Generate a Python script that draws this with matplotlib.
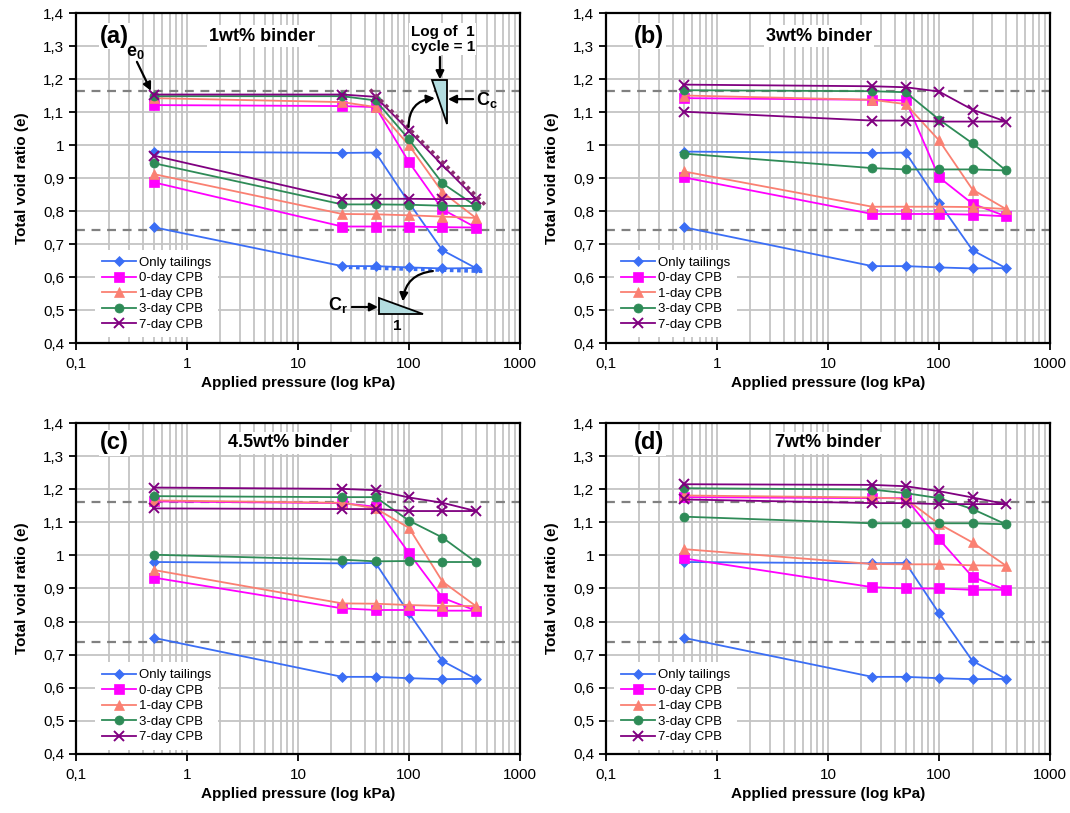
import matplotlib
matplotlib.use('Agg')
import matplotlib.pyplot as plt
from matplotlib.ticker import FixedLocator, NullFormatter
from matplotlib.patches import Polygon

plt.rcParams['font.family'] = ['Liberation Sans', 'DejaVu Sans']
plt.rcParams['mathtext.fontset'] = 'custom'
plt.rcParams['mathtext.rm'] = 'Liberation Sans'
plt.rcParams['mathtext.bf'] = 'Liberation Sans:bold'

# ---------------- data ----------------
pressure = [0.5, 25, 50, 100, 200, 400, 200, 100, 50, 25, 0.5]
series_names = ['Only tailings', '0-day CPB', '1-day CPB', '3-day CPB', '7-day CPB']
panel_labels = ['(a)', '(b)', '(c)', '(d)']
panel_titles = ['1wt% binder', '3wt% binder', '4.5wt% binder', '7wt% binder']
x_ticks = [0.1, 1, 10, 100, 1000]
x_ticklabels = ['0,1', '1', '10', '100', '1000']
y_ticks = [0.4, 0.5, 0.6, 0.7, 0.8, 0.9, 1.0, 1.1, 1.2, 1.3, 1.4]
y_ticklabels = ['0,4', '0,5', '0,6', '0,7', '0,8', '0,9', '1', '1,1', '1,2', '1,3', '1,4']
ref_lines_top = [1.163, 0.743]
ref_lines_bottom = [1.162, 0.739]

tailings = [0.980, 0.976, 0.977, 0.825, 0.681, 0.627, 0.626, 0.629, 0.633, 0.633, 0.751]

a_day0 = [1.121, 1.118, 1.115, 0.948, 0.805, 0.750, 0.751, 0.753, 0.753, 0.753, 0.887]
a_day1 = [1.142, 1.130, 1.115, 0.999, 0.857, 0.779, 0.783, 0.787, 0.790, 0.791, 0.912]
a_day3 = [1.148, 1.148, 1.135, 1.017, 0.884, 0.815, 0.816, 0.819, 0.820, 0.820, 0.945]
a_day7 = [1.153, 1.153, 1.146, 1.043, 0.939, 0.837, 0.836, 0.837, 0.837, 0.837, 0.968]

b_day0 = [1.142, 1.137, 1.135, 0.902, 0.822, 0.784, 0.789, 0.791, 0.791, 0.791, 0.902]
b_day1 = [1.150, 1.137, 1.124, 1.014, 0.865, 0.806, 0.812, 0.813, 0.813, 0.813, 0.920]
b_day3 = [1.166, 1.163, 1.160, 1.077, 1.005, 0.923, 0.926, 0.926, 0.926, 0.930, 0.974]
b_day7 = [1.183, 1.178, 1.175, 1.162, 1.107, 1.071, 1.071, 1.071, 1.074, 1.074, 1.101]

c_day0 = [1.163, 1.158, 1.147, 1.007, 0.872, 0.833, 0.833, 0.835, 0.835, 0.840, 0.933]
c_day1 = [1.166, 1.159, 1.142, 1.083, 0.921, 0.847, 0.847, 0.850, 0.854, 0.855, 0.956]
c_day3 = [1.179, 1.176, 1.176, 1.105, 1.054, 0.980, 0.980, 0.983, 0.982, 0.987, 1.002]
c_day7 = [1.205, 1.201, 1.197, 1.175, 1.159, 1.134, 1.134, 1.134, 1.140, 1.140, 1.142]

d_day0 = [1.176, 1.173, 1.173, 1.049, 0.935, 0.896, 0.896, 0.900, 0.900, 0.904, 0.991]
d_day1 = [1.181, 1.175, 1.171, 1.095, 1.039, 0.969, 0.970, 0.973, 0.973, 0.974, 1.019]
d_day3 = [1.203, 1.199, 1.188, 1.173, 1.140, 1.094, 1.097, 1.097, 1.097, 1.097, 1.117]
d_day7 = [1.215, 1.213, 1.209, 1.194, 1.175, 1.155, 1.155, 1.155, 1.158, 1.158, 1.169]

panels_data = [
    [tailings, a_day0, a_day1, a_day3, a_day7],
    [tailings, b_day0, b_day1, b_day3, b_day7],
    [tailings, c_day0, c_day1, c_day3, c_day7],
    [tailings, d_day0, d_day1, d_day3, d_day7],
]

# Cc / Cr guide lines in panel (a)
cc_line_x = [44.6, 484]
cc_line_y = [1.168, 0.819]
cr_line_x = [24.7, 494]
cr_line_y = [0.630, 0.617]

# ---------------- style ----------------
colors = ['#3b6ef5', '#ff00ff', '#fa8072', '#2e8b57', '#800080']
markers = ['D', 's', '^', 'o', 'x']
msizes = [5.5, 6.5, 7, 6.5, 7.5]

fig = plt.figure(figsize=(10.7, 8.13), dpi=100)
positions = [
    [0.0710, 0.5781, 0.4150, 0.4059],
    [0.5664, 0.5781, 0.4150, 0.4059],
    [0.0710, 0.0726, 0.4150, 0.4071],
    [0.5664, 0.0726, 0.4150, 0.4071],
]
label_pos = [(0.054, 0.93), (0.063, 0.93), (0.054, 0.94), (0.063, 0.94)]
title_pos = [(0.42, 0.93), (0.48, 0.93), (0.48, 0.94), (0.50, 0.94)]
legend_anchor = [(0.035, 0.005), (0.01, 0.005), (0.035, 0.0), (0.01, 0.0)]

axes = []
for i, pos in enumerate(positions):
    ax = fig.add_axes(pos)
    axes.append(ax)
    ax.set_xscale('log')
    ax.set_xlim(0.1, 1000)
    ax.set_ylim(0.4, 1.4)
    ax.xaxis.set_major_locator(FixedLocator(x_ticks))
    ax.set_xticklabels(x_ticklabels)
    ax.xaxis.set_minor_locator(FixedLocator(
        [m * d for d in [0.1, 1, 10, 100] for m in range(2, 10)]))
    ax.xaxis.set_minor_formatter(NullFormatter())
    ax.set_yticks(y_ticks)
    ax.set_yticklabels(y_ticklabels)
    ax.tick_params(axis='both', which='major', labelsize=11, length=5, width=1.3,
                   direction='out')
    ax.tick_params(axis='x', which='minor', length=0)
    ax.tick_params(axis='x', which='major', pad=5)
    ax.grid(True, which='major', axis='both', color='#c4c4c4', lw=1.3)
    ax.grid(True, which='minor', axis='x', color='#c4c4c4', lw=1.3)
    ax.set_axisbelow(True)
    for s in ax.spines.values():
        s.set_linewidth(1.6)
    ax.set_xlabel('Applied pressure (log kPa)', fontsize=11, fontweight='bold', labelpad=4)
    ax.set_ylabel('Total void ratio (e)', fontsize=11, fontweight='bold', labelpad=10)

    refs = ref_lines_top if i < 2 else ref_lines_bottom
    for r in refs:
        ax.axhline(r, color='#808080', ls=(0, (4, 3)), lw=1.6, zorder=2)

    for j, ys in enumerate(panels_data[i]):
        ax.plot(pressure, ys, color=colors[j], marker=markers[j], ms=msizes[j],
                mew=1.4 if markers[j] == 'x' else 0.5, lw=1.3,
                label=series_names[j], zorder=3 + j)

    leg = ax.legend(loc='lower left', bbox_to_anchor=legend_anchor[i], fontsize=9.5,
                    frameon=True, fancybox=False, framealpha=1, edgecolor='none',
                    handlelength=2.6, labelspacing=0.25, borderpad=0.5,
                    handletextpad=0.2, borderaxespad=0.3)
    leg.set_zorder(20)

    ax.text(label_pos[i][0], label_pos[i][1], panel_labels[i], transform=ax.transAxes,
            fontsize=17, fontweight='bold', ha='left', va='center', zorder=21,
            bbox=dict(facecolor='white', edgecolor='none', pad=1))
    ax.text(title_pos[i][0], title_pos[i][1], panel_titles[i], transform=ax.transAxes,
            fontsize=13, fontweight='bold', ha='center', va='center', zorder=21,
            bbox=dict(facecolor='white', edgecolor='none', pad=1.5))

# ---------------- annotations in panel (a) ----------------
ax = axes[0]
ax.plot(cc_line_x, cc_line_y, color='#8b2f6e', ls=(0, (1, 1)), lw=2.6, zorder=9)
ax.plot(cr_line_x, cr_line_y, color='#3b6ef5', ls=(0, (1, 1)), lw=2.6, zorder=9)

arr = dict(arrowstyle='-|>', color='black', lw=1.6, mutation_scale=12,
           shrinkA=0, shrinkB=0)

ax.text(0.34, 1.279, r'$\mathbf{e_0}$', fontsize=13, ha='center', va='center', zorder=22)
ax.annotate('', xy=(0.474, 1.164), xytext=(0.354, 1.252), arrowprops=arr, zorder=22)

cc_tri = Polygon([(161, 1.197), (220, 1.197), (220, 1.064)], closed=True,
                 facecolor='#b3dde0', edgecolor='black', lw=1.3, zorder=22)
ax.add_patch(cc_tri)
ax.text(202, 1.321, 'Log of  1\ncycle = 1', fontsize=11, fontweight='bold',
        ha='center', va='center', linespacing=1.1, zorder=22,
        bbox=dict(facecolor='white', edgecolor='none', pad=1))
ax.annotate('', xy=(190, 1.199), xytext=(190, 1.267), arrowprops=arr, zorder=22)
ax.text(500, 1.136, r'$\mathbf{C_c}$', fontsize=13, ha='center', va='center', zorder=22)
ax.annotate('', xy=(224, 1.139), xytext=(378, 1.139), arrowprops=arr, zorder=22)
ax.annotate('', xy=(171, 1.142), xytext=(99, 1.055),
            arrowprops=dict(arrowstyle='-|>', color='black', lw=1.6, mutation_scale=12,
                            shrinkA=0, shrinkB=0, connectionstyle='arc3,rad=-0.45'),
            zorder=22)

cr_tri = Polygon([(53.7, 0.536), (53.7, 0.488), (134, 0.488)], closed=True,
                 facecolor='#b3dde0', edgecolor='black', lw=1.3, zorder=22)
ax.add_patch(cr_tri)
ax.text(23.0, 0.515, r'$\mathbf{C_r}$', fontsize=13, ha='center', va='center', zorder=22)
ax.annotate('', xy=(52.6, 0.509), xytext=(30.6, 0.509), arrowprops=arr, zorder=22)
ax.text(78, 0.452, '1', fontsize=11, fontweight='bold', ha='center', va='center', zorder=22)
ax.annotate('', xy=(88, 0.526), xytext=(164, 0.618),
            arrowprops=dict(arrowstyle='-|>', color='black', lw=1.6, mutation_scale=12,
                            shrinkA=0, shrinkB=0, connectionstyle='arc3,rad=0.4'),
            zorder=22)

fig.savefig('out.png', dpi=100)
